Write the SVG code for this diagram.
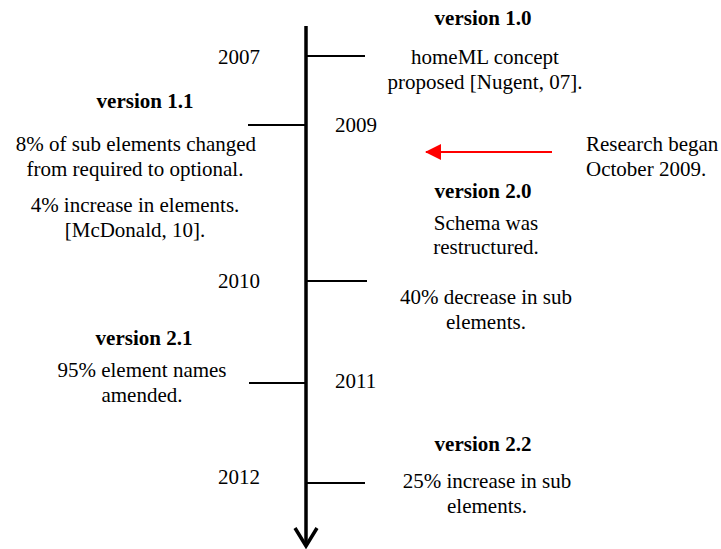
<svg xmlns="http://www.w3.org/2000/svg" width="721" height="549" viewBox="0 0 721 549">
<style>
  text { font-family: "Liberation Serif", "Times New Roman", serif; font-size: 21px; fill: #000; }
  .c { text-anchor: middle; }
  .b { font-weight: bold; }
  .tick { stroke: #000; stroke-width: 2; fill: none; }
  .axis { stroke: #000; stroke-width: 3.5; fill: none; }
</style>
<defs>
  <marker id="redhead" markerWidth="16" markerHeight="16" refX="15" refY="8" orient="auto" markerUnits="userSpaceOnUse">
    <path d="M0,0 L16,8 L0,16 Z" fill="#ff0000"/>
  </marker>
</defs>
<rect width="721" height="549" fill="#fff"/>
<g id="connectors">
  <line class="axis" x1="306" y1="26" x2="306" y2="545"/>
  <polyline class="axis" points="295,528 306,546 317,528"/>
  <line class="tick" x1="306" y1="56" x2="365" y2="56"/>
  <line class="tick" x1="248" y1="125" x2="306" y2="125"/>
  <line class="tick" x1="306" y1="281" x2="367" y2="281"/>
  <line class="tick" x1="249" y1="383" x2="306" y2="383"/>
  <line class="tick" x1="306" y1="483" x2="365" y2="483"/>
  <line x1="552" y1="152" x2="426" y2="152" stroke="#ff0000" stroke-width="2" marker-end="url(#redhead)"/>
</g>
<g id="year-2007"><text x="218" y="64">2007</text></g>
<g id="year-2009"><text x="335" y="132">2009</text></g>
<g id="year-2010"><text x="218" y="288">2010</text></g>
<g id="year-2011"><text x="335" y="388">2011</text></g>
<g id="year-2012"><text x="218" y="484">2012</text></g>
<g id="v10">
  <text class="c b" x="483" y="25">version 1.0</text>
  <text class="c" x="485" y="64">homeML concept</text>
  <text class="c" x="485" y="89">proposed [Nugent, 07].</text>
</g>
<g id="v11">
  <text class="c b" x="145" y="108">version 1.1</text>
  <text class="c" x="136" y="151">8% of sub elements changed</text>
  <text class="c" x="135" y="176">from required to optional.</text>
  <text class="c" x="135" y="212">4% increase in elements.</text>
  <text class="c" x="135" y="237">[McDonald, 10].</text>
</g>
<g id="research">
  <text x="586" y="151">Research began</text>
  <text x="586" y="176">October 2009.</text>
</g>
<g id="v20">
  <text class="c b" x="483" y="198">version 2.0</text>
  <text class="c" x="486" y="230">Schema was</text>
  <text class="c" x="486" y="254">restructured.</text>
  <text class="c" x="486" y="304">40% decrease in sub</text>
  <text class="c" x="486" y="329">elements.</text>
</g>
<g id="v21">
  <text class="c b" x="144" y="345">version 2.1</text>
  <text class="c" x="142" y="377">95% element names</text>
  <text class="c" x="142" y="402">amended.</text>
</g>
<g id="v22">
  <text class="c b" x="483" y="451">version 2.2</text>
  <text class="c" x="487" y="488">25% increase in sub</text>
  <text class="c" x="487" y="513">elements.</text>
</g>
</svg>
